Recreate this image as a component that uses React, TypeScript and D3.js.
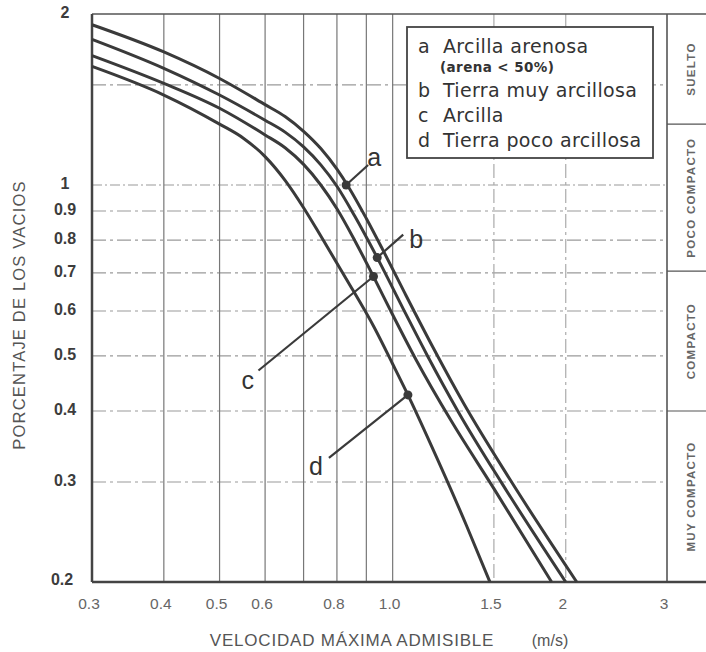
import React from "react";
import * as d3 from "d3";

// ---- data ----
const curveA: [number, number][] = [
  [0.3, 1.915], [0.4, 1.715], [0.5, 1.54], [0.6, 1.385], [0.65, 1.32], [0.7, 1.243],
  [0.75, 1.159], [0.8, 1.066], [0.84, 0.988], [0.9, 0.873], [0.96, 0.771], [1.05, 0.645],
  [1.175, 0.518], [1.33, 0.412], [1.6, 0.303], [2.09, 0.2],
];
const curveB: [number, number][] = [
  [0.3, 1.805], [0.4, 1.605], [0.5, 1.44], [0.6, 1.3], [0.65, 1.239], [0.7, 1.167],
  [0.75, 1.085], [0.8, 0.995], [0.86, 0.88], [0.94, 0.745], [1.054, 0.593], [1.15, 0.5],
  [1.3, 0.399], [1.55, 0.298], [2.0, 0.2],
];
const curveC: [number, number][] = [
  [0.3, 1.69], [0.4, 1.51], [0.5, 1.365], [0.6, 1.225], [0.65, 1.163], [0.7, 1.087],
  [0.75, 1.0], [0.8, 0.908], [0.86, 0.797], [0.926, 0.69], [1.0, 0.591], [1.1, 0.491],
  [1.265, 0.384], [1.5, 0.292], [1.89, 0.2],
];
const curveD: [number, number][] = [
  [0.3, 1.617], [0.4, 1.44], [0.5, 1.28], [0.55, 1.209], [0.6, 1.122], [0.65, 1.019],
  [0.7, 0.912], [0.75, 0.813], [0.83, 0.684], [0.93, 0.56], [1.0, 0.484], [1.063, 0.427],
  [1.167, 0.348], [1.345, 0.251], [1.476, 0.2],
];
const curves = [curveA, curveB, curveC, curveD];

const seriesKeys = ["a", "b", "c", "d"];
const markerPoints: [number, number][] = [[0.83, 1.0], [0.94, 0.745], [0.926, 0.69], [1.063, 0.427]];

const legendKeys = ["a", "", "b", "c", "d"];
const legendTexts = ["Arcilla arenosa", "(arena < 50%)", "Tierra muy arcillosa", "Arcilla", "Tierra poco arcillosa"];

const xTickValues = [0.3, 0.4, 0.5, 0.6, 0.8, 1.0, 1.5, 2, 3];
const xTickLabels = ["0.3", "0.4", "0.5", "0.6", "0.8", "1.0", "1.5", "2", "3"];
const yTickValues = [2, 1, 0.9, 0.8, 0.7, 0.6, 0.5, 0.4, 0.3, 0.2];
const yTickLabels = ["2", "1", "0.9", "0.8", "0.7", "0.6", "0.5", "0.4", "0.3", "0.2"];

const xGridSolid = [0.4, 0.5, 0.6, 0.7, 0.8, 0.9, 1.0];
const xGridDashed = [1.5, 2];
const yGrid = [1.5, 1, 0.9, 0.8, 0.7, 0.6, 0.5, 0.4, 0.3];

const bandBounds = [2, 1.28, 0.705, 0.4, 0.2];
const bandLabels = ["SUELTO", "POCO COMPACTO", "COMPACTO", "MUY COMPACTO"];

const xTitle = "VELOCIDAD MÁXIMA ADMISIBLE";
const xUnit = "(m/s)";
const yTitle = "PORCENTAJE DE LOS VACIOS";

// ---- layout ----
const W = 706, H = 652;
const L = 92, R = 667, T = 14, B = 582;
const FONT = "'Liberation Sans', Arial, Helvetica, sans-serif";
const LEGFONT = "'DejaVu Sans', Verdana, sans-serif";
const INK = "#3a3a3a";

// label offsets (px) relative to the marker
const labelOffsets = [
  { lx: 22, ly: -20, tx: 21, ty: -19 },
  { lx: 26, ly: -23, tx: 32, ty: -10 },
  { lx: -115, ly: 94, tx: -132, ty: 112 },
  { lx: -79, ly: 63, tx: -99, ty: 80 },
];

export default function App() {
  const x = d3.scaleLog().domain([0.3, 3]).range([L, R]);
  const y = d3.scaleLog().domain([0.2, 2]).range([B, T]);
  const line = d3
    .line<[number, number]>()
    .x((d) => x(d[0]))
    .y((d) => y(d[1]))
    .curve(d3.curveMonotoneX);

  const legX = 407, legY = 27, legW = 246, legH = 131;
  const legBaselines = [53, 72, 97, 122, 147];

  return (
    <svg
      width={W}
      height={H}
      style={{ position: "absolute", left: 0, top: 0, background: "#fff" }}
      fontFamily={FONT}
    >
      <rect x={0} y={0} width={W} height={H} fill="#fff" />
      {/* grid */}
      {yGrid.map((v) => (
        <line key={"hy" + v} x1={L} x2={R} y1={y(v)} y2={y(v)} stroke="#9a9a9a" strokeWidth={1.2} strokeDasharray={v === 1 ? "10,3,2,3" : "14,4,3,4"} />
      ))}
      {xGridSolid.map((v) => (
        <line key={"gx" + v} x1={x(v)} x2={x(v)} y1={T} y2={B} stroke="#777" strokeWidth={1.2} />
      ))}
      {xGridDashed.map((v) => (
        <line key={"gxd" + v} x1={x(v)} x2={x(v)} y1={T} y2={B} stroke="#aaa" strokeWidth={1.2} strokeDasharray="14,4,3,4" />
      ))}

      {/* compaction band */}
      {bandBounds.slice(1, -1).map((v) => (
        <line key={"bb" + v} x1={R} x2={W} y1={y(v)} y2={y(v)} stroke="#555" strokeWidth={1.2} />
      ))}
      {bandLabels.map((t, i) => {
        const cy = (y(bandBounds[i]) + y(bandBounds[i + 1])) / 2;
        return (
          <text
            key={t}
            transform={`translate(${692},${cy}) rotate(-90)`}
            textAnchor="middle"
            dominantBaseline="middle"
            fontSize={11.5}
            fontWeight={700}
            letterSpacing={1.3}
            fill="#666"
          >
            {t}
          </text>
        );
      })}

      {/* frame */}
      <line x1={L} x2={W} y1={T} y2={T} stroke="#555" strokeWidth={1.6} />
      <line x1={R} x2={R} y1={T} y2={B} stroke="#555" strokeWidth={1.6} />
      <line x1={L} x2={W} y1={B} y2={B} stroke="#444" strokeWidth={2.5} />
      <line x1={L} x2={L} y1={T} y2={B} stroke="#444" strokeWidth={2.5} />

      {/* curves */}
      {curves.map((c, i) => (
        <path key={seriesKeys[i]} d={line(c) || ""} fill="none" stroke={INK} strokeWidth={3} strokeLinejoin="round" />
      ))}

      {/* markers and labels */}
      {markerPoints.map((p, i) => {
        const px = x(p[0]), py = y(p[1]);
        const o = labelOffsets[i];
        return (
          <g key={"m" + i}>
            <line x1={px} y1={py} x2={px + o.lx} y2={py + o.ly} stroke={INK} strokeWidth={2.2} />
            <circle cx={px} cy={py} r={4.5} fill={INK} />
            <text x={px + o.tx} y={py + o.ty} fontSize={25} fill="#333">
              {seriesKeys[i]}
            </text>
          </g>
        );
      })}

      {/* legend */}
      <rect x={legX} y={legY} width={legW} height={legH} fill="#fff" stroke="#444" strokeWidth={1.8} />
      {legendTexts.map((t, i) => (
        <g key={"lg" + i} fontFamily={LEGFONT}>
          {legendKeys[i] && (
            <text x={418} y={legBaselines[i]} fontSize={19} fill="#333">
              {legendKeys[i]}
            </text>
          )}
          <text
            x={legendKeys[i] ? 443 : 440}
            y={legBaselines[i]}
            fontSize={legendKeys[i] ? 19 : 13.5}
            fontWeight={legendKeys[i] ? 400 : 700}
            letterSpacing={legendKeys[i] ? 0.35 : 0.4}
            fill="#333"
          >
            {t}
          </text>
        </g>
      ))}

      {/* y tick labels */}
      {yTickValues.map((v, i) => (
        <text
          key={"yt" + v}
          x={v === 0.2 ? 62 : 65}
          y={v === 0.2 ? y(v) - 1 : y(v)}
          textAnchor="middle"
          dominantBaseline="middle"
          fontSize={16}
          fontWeight={600}
          fill="#3c3c3c"
        >
          {yTickLabels[i]}
        </text>
      ))}

      {/* x tick labels */}
      {xTickValues.map((v, i) => (
        <text key={"xt" + v} x={x(v) - 3} y={609} textAnchor="middle" fontSize={15.5} fill="#666">
          {xTickLabels[i]}
        </text>
      ))}

      {/* axis titles */}
      <text x={352} y={646} textAnchor="middle" fontSize={17} letterSpacing={0.8} fill="#555">
        {xTitle}
      </text>
      <text x={550} y={646} textAnchor="middle" fontSize={16} fill="#555">
        {xUnit}
      </text>
      <text
        transform={`translate(25,${315}) rotate(-90)`}
        textAnchor="middle"
        fontSize={16.5}
        letterSpacing={1.2}
        fill="#555"
      >
        {yTitle}
      </text>
    </svg>
  );
}
